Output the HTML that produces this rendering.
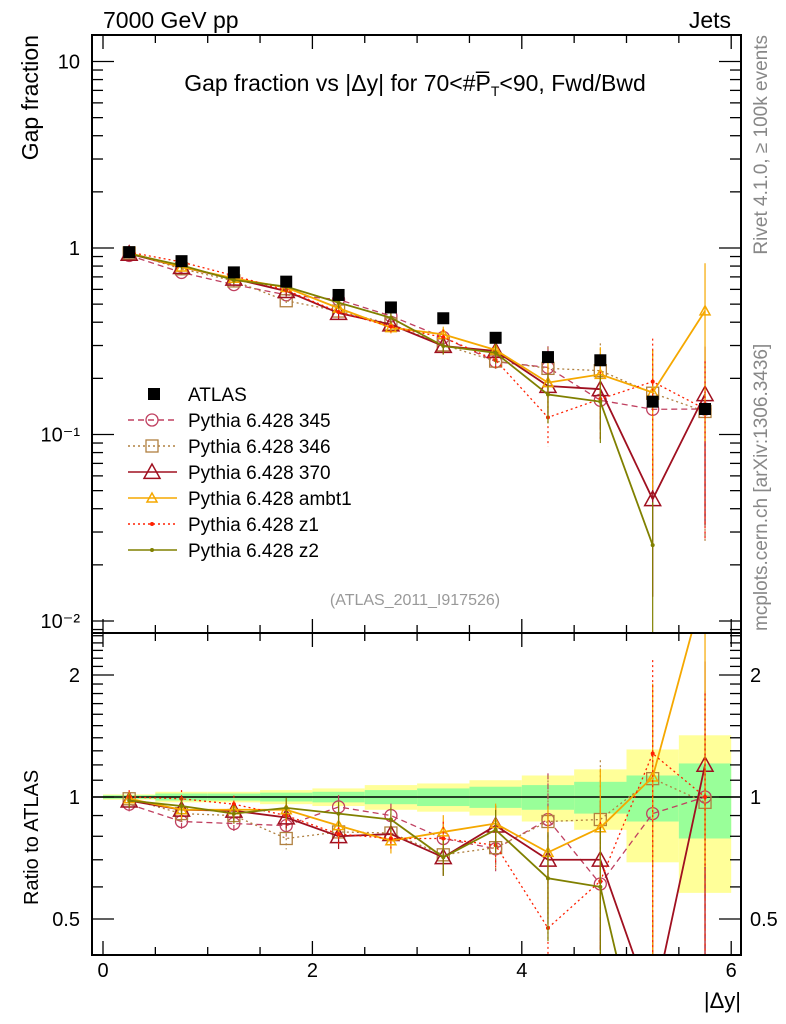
<!DOCTYPE html>
<html><head><meta charset="utf-8">
<style>
html,body{margin:0;padding:0;background:#fff;overflow:hidden;width:786px;height:1024px;}
svg{display:block;font-family:"Liberation Sans",sans-serif;}
</style></head>
<body>
<svg id="chart" width="786" height="1024" viewBox="0 0 786 1024" xmlns="http://www.w3.org/2000/svg">
<defs>
<clipPath id="clipMain"><rect x="92" y="35" width="649" height="598"/></clipPath>
<clipPath id="clipRatio"><rect x="92" y="633" width="649" height="322"/></clipPath>
</defs>
<text x="103" y="28" font-size="23">7000 GeV pp</text>
<text x="731" y="28" font-size="23" text-anchor="end">Jets</text>
<text x="415" y="91" font-size="23" text-anchor="middle">Gap fraction vs |Δy| for 70&lt;#P̅<tspan font-size="14" dy="5">T</tspan><tspan dy="-5">&lt;90, Fwd/Bwd</tspan></text>
<text transform="translate(38,35) rotate(-90)" font-size="23" text-anchor="end">Gap fraction</text>
<text transform="translate(38,905) rotate(-90)" font-size="20" text-anchor="start">Ratio to ATLAS</text>
<text transform="translate(767,35) rotate(-90)" font-size="19" fill="#888" text-anchor="end">Rivet 4.1.0, ≥ 100k events</text>
<text transform="translate(767,631) rotate(-90)" font-size="19" fill="#888" text-anchor="start">mcplots.cern.ch [arXiv:1306.3436]</text>
<text x="415" y="605" font-size="16" fill="#999" text-anchor="middle">(ATLAS_2011_I917526)</text>
<text x="741" y="1008" font-size="22" text-anchor="end">|Δy|</text>
<g id="bands" clip-path="url(#clipRatio)"></g>
<g id="main" clip-path="url(#clipMain)"></g>
<g id="ratio" clip-path="url(#clipRatio)"></g>
<g id="axes"></g>
<g id="legend"></g>
</svg>
<script>
const xCenters=[0.25,0.75,1.25,1.75,2.25,2.75,3.25,3.75,4.25,4.75,5.25,5.75];
const atlasValues=[0.95,0.85,0.74,0.66,0.56,0.48,0.42,0.33,0.26,0.25,0.15,0.137];
const statBand=[0.01,0.02,0.02,0.025,0.03,0.04,0.05,0.06,0.07,0.09,0.13,0.21];
const totalBand=[0.015,0.03,0.03,0.04,0.05,0.07,0.08,0.10,0.13,0.17,0.31,0.42];
const ratio345=[0.96,0.87,0.86,0.85,0.945,0.90,0.79,0.745,0.88,0.61,0.91,1.0];
const ratio346=[0.99,0.91,0.90,0.79,0.82,0.815,0.72,0.75,0.87,0.88,1.11,0.97];
const ratio370=[0.98,0.93,0.925,0.89,0.80,0.81,0.71,0.85,0.70,0.70,0.30,1.2];
const ratioAmbt1=[0.99,0.93,0.93,0.93,0.85,0.78,0.82,0.86,0.73,0.84,1.12,3.36];
const ratioZ1=[1.0,0.99,0.96,0.90,0.81,0.79,0.79,0.76,0.475,0.62,1.28,1.0];
const ratioZ2=[0.98,0.95,0.91,0.94,0.91,0.88,0.71,0.83,0.63,0.60,0.17,null];
const mcRelErr=[0.04,0.05,0.05,0.06,0.07,0.07,0.1,0.12,0.3,0.4,0.7,0.8];
const xTicks=[0,2,4,6];
const mainTickLabels=["10","1","10\u207B\u00B9","10\u207B\u00B2"];
const ratioTickLabels=["2","1","0.5"];

const NS="http://www.w3.org/2000/svg";
const X=v=>103+104.7*v;
const YM=v=>248-186.5*Math.log10(v);
const YR=r=>797-122*Math.log2(r);
function mk(parent,tag,attrs){const e=document.createElementNS(NS,tag);for(const k in attrs)e.setAttribute(k,attrs[k]);parent.appendChild(e);return e;}
const gMain=document.getElementById('main'),gRatio=document.getElementById('ratio'),gBands=document.getElementById('bands'),gAxes=document.getElementById('axes'),gLeg=document.getElementById('legend');

xCenters.forEach((c,i)=>{
  let r=mk(gBands,'rect',{x:X(c-0.25),y:YR(1+totalBand[i]),width:X(0.5)-X(0),height:YR(1-totalBand[i])-YR(1+totalBand[i]),fill:'#ffff99'});
  
  
  let g=mk(gBands,'rect',{x:X(c-0.25),y:YR(1+statBand[i]),width:X(0.5)-X(0),height:YR(1-statBand[i])-YR(1+statBand[i]),fill:'#99ff99'});
  
  
});
let one=mk(gRatio,'line',{x1:92,x2:741,y1:YR(1),y2:YR(1),stroke:'#000','stroke-width':1.5});



const series=[
 {name:'345',label:'Pythia 6.428 345',r:ratio345,color:'#c04060',dash:'6,4',marker:'circle',size:6},
 {name:'346',label:'Pythia 6.428 346',r:ratio346,color:'#b08040',dash:'2,3',marker:'square',size:6},
 {name:'370',label:'Pythia 6.428 370',r:ratio370,color:'#a01020',dash:'',marker:'tri',size:8},
 {name:'ambt1',label:'Pythia 6.428 ambt1',r:ratioAmbt1,color:'#f5a800',dash:'',marker:'tri',size:5},
 {name:'z1',label:'Pythia 6.428 z1',r:ratioZ1,color:'#ff2000',dash:'2,3',marker:'dot',size:2},
 {name:'z2',label:'Pythia 6.428 z2',r:ratioZ2,color:'#808000',dash:'',marker:'dot',size:2}
];
function marker(g,type,x,y,s,color){
  let e;
  if(type==='circle')e=mk(g,'circle',{cx:x,cy:y,r:s,fill:'none',stroke:color,'stroke-width':1.3});
  else if(type==='square')e=mk(g,'rect',{x:x-s,y:y-s,width:2*s,height:2*s,fill:'none',stroke:color,'stroke-width':1.3});
  else if(type==='tri')e=mk(g,'polygon',{points:`${x},${y-s} ${x-s},${y+s*0.8} ${x+s},${y+s*0.8}`,fill:'none',stroke:color,'stroke-width':1.5});
  else e=mk(g,'circle',{cx:x,cy:y,r:s,fill:color});
  return e;
}
series.forEach(s=>{
  [[gMain,(i,f)=>YM(atlasValues[i]*s.r[i]*f)],[gRatio,(i,f)=>YR(s.r[i]*f)]].forEach(([g,yf],pi)=>{
    let pts=[];
    xCenters.forEach((c,i)=>{if(s.r[i]!=null)pts.push(X(c)+','+yf(i,1));});
    let l=mk(g,'polyline',{points:pts.join(' '),fill:'none',stroke:s.color,'stroke-width':s.name==='370'||s.name==='z2'||s.name==='ambt1'?1.8:1.3,'stroke-dasharray':s.dash});
    
    
    xCenters.forEach((c,i)=>{
      if(s.r[i]==null)return;
      const e=mcRelErr[i];
      let eb=mk(g,'line',{x1:X(c),x2:X(c),y1:yf(i,1+e),y2:yf(i,Math.max(1-e,0.01)),stroke:s.color,'stroke-width':1.2,'stroke-dasharray':s.dash});
      
      
      let m=marker(g,s.marker,X(c),yf(i,1),s.size,s.color);
      
      
    });
  });
});
xCenters.forEach((c,i)=>{
  let p=mk(gMain,'rect',{x:X(c)-6,y:YM(atlasValues[i])-6,width:12,height:12,fill:'#000'});
  
  
});

[[35,633],[633,955]].forEach(([t,b],k)=>{
  let f=mk(gAxes,'rect',{x:92,y:t,width:649,height:b-t,fill:'none',stroke:'#000','stroke-width':2});
  
  
  for(let v=0;v<=6.01;v+=0.5){
    const maj=Math.abs(v-Math.round(v/2)*2)<0.01;
    const L=maj?14:8;
    mk(gAxes,'line',{x1:X(v),x2:X(v),y1:b,y2:b-L,stroke:'#000','stroke-width':1.3});
    mk(gAxes,'line',{x1:X(v),x2:X(v),y1:t,y2:t+L,stroke:'#000','stroke-width':1.3});
  }
});
for(let d=-3;d<=1;d++){
  for(let m=1;m<10;m++){
    const v=m*Math.pow(10,d);const y=YM(v);
    if(y<35||y>633)continue;
    const L=m===1?22:11;
    mk(gAxes,'line',{x1:92,x2:92+L,y1:y,y2:y,stroke:'#000','stroke-width':1.3});
    mk(gAxes,'line',{x1:741,x2:741-L,y1:y,y2:y,stroke:'#000','stroke-width':1.3});
  }
}
[10,1,0.1,0.01].forEach((v,i)=>{
  let t=mk(gAxes,'text',{x:80,y:YM(v)+7,'font-size':20,'text-anchor':'end'});
  t.textContent=mainTickLabels[i];
  
  
});
[0.4,0.5,0.6,0.7,0.8,0.9,1,1.1,1.2,1.3,1.4,1.5,1.6,1.7,1.8,1.9,2,2.1,2.2,2.3,2.4,2.5].forEach(v=>{
  const y=YR(v);if(y<633||y>955)return;
  const L=(v===0.5||v===1||v===2)?22:11;
  mk(gAxes,'line',{x1:92,x2:92+L,y1:y,y2:y,stroke:'#000','stroke-width':1.3});
  mk(gAxes,'line',{x1:741,x2:741-L,y1:y,y2:y,stroke:'#000','stroke-width':1.3});
});
[2,1,0.5].forEach((v,i)=>{
  let t=mk(gAxes,'text',{x:80,y:YR(v)+7,'font-size':20,'text-anchor':'end'});
  t.textContent=ratioTickLabels[i];
  
  
  let t2=mk(gAxes,'text',{x:750,y:YR(v)+7,'font-size':20});
  t2.textContent=ratioTickLabels[i];
  
  
});
xTicks.forEach(v=>{
  let t=mk(gAxes,'text',{x:X(v),y:977,'font-size':20,'text-anchor':'middle'});
  t.textContent=String(v);
  
  
});
let ly=394;
let la=mk(gLeg,'rect',{x:148,y:ly-6,width:12,height:12,fill:'#000'});


let lt=mk(gLeg,'text',{x:188,y:ly+7,'font-size':19});lt.textContent='ATLAS';


series.forEach((s,i)=>{
  const y=ly+26*(i+1);
  let l=mk(gLeg,'line',{x1:128,x2:177,y1:y,y2:y,stroke:s.color,'stroke-width':1.5,'stroke-dasharray':s.dash});
  
  
  let m=marker(gLeg,s.marker,152,y,s.size,s.color);
  
  
  let t=mk(gLeg,'text',{x:188,y:y+7,'font-size':19});t.textContent=s.label;
  
  
});
</script>
</body></html>
